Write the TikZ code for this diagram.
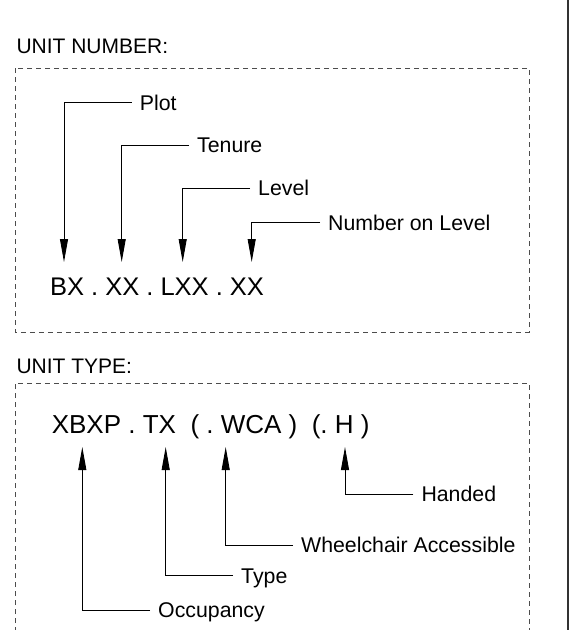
\documentclass[tikz,border=0pt]{standalone}
\usepackage{fontspec}
\setmainfont{Liberation Sans}
\usetikzlibrary{arrows.meta}
\tikzset{
  heading/.style={anchor=base west, inner sep=0pt, font=\fontsize{21}{25}\selectfont},
  code/.style={anchor=base west, inner sep=0pt},
  lbl/.style={anchor=west, inner xsep=8pt, inner ysep=0pt, text height=15pt, text depth=0pt, font=\fontsize{21.3}{25}\selectfont},
  leader/.style={draw=black, line width=0.9pt, -{Triangle[length=23pt,width=8pt]}},
  dashbox/.style={draw=black!70, line width=0.8pt, dash pattern=on 5pt off 4pt},
}
\begin{document}
\frenchspacing
\begin{tikzpicture}[x=1pt,y=-1pt]
\useasboundingbox (0,0) rectangle (575,630);
% right border line
\draw[black!80, line width=1.5pt] (568,0) -- (568,630);

% ---------- UNIT NUMBER ----------
\node[heading] (h1) at (16.3,53) {UNIT NUMBER:};
\draw[dashbox] (15,68) rectangle (529,332);
\node[code, font=\fontsize{25.5}{30}\selectfont] (num) at (49.8,295) {BX . XX . LXX . XX};

\coordinate (t1) at (64,262);
\coordinate (t2) at (121.7,262);
\coordinate (t3) at (182.7,262);
\coordinate (t4) at (251.7,262);

\node[lbl] (plot)   at (131.7,102.7) {Plot};
\node[lbl] (tenure) at (189,145)     {Tenure};
\node[lbl] (level)  at (250,188.3)   {Level};
\node[lbl] (nol)    at (320,222.7)   {Number on Level};

\draw[leader] (plot.west)   -| (t1);
\draw[leader] (tenure.west) -| (t2);
\draw[leader] (level.west)  -| (t3);
\draw[leader] (nol.west)    -| (t4);

% ---------- UNIT TYPE ----------
\node[heading] (h2) at (16.3,373) {UNIT TYPE:};
\draw[dashbox] (15,632) -- (15,383) -- (529,383) -- (529,632);
\node[code, font=\fontsize{26}{31}\selectfont] (typ) at (51.6,433) {XBXP . TX\ \ ( . WCA )\ \ (. H )};

\coordinate (u1) at (82.3,447);
\coordinate (u2) at (165.7,447);
\coordinate (u3) at (225.7,447);
\coordinate (u4) at (345,447);

\node[lbl] (hand) at (413.3,494)   {Handed};
\node[lbl] (wca)  at (293,545)     {Wheelchair Accessible};
\node[lbl] (type) at (233,575.7)   {Type};
\node[lbl] (occ)  at (150,610)     {Occupancy};

\draw[leader] (hand.west) -| (u4);
\draw[leader] (wca.west)  -| (u3);
\draw[leader] (type.west) -| (u2);
\draw[leader] (occ.west)  -| (u1);
\end{tikzpicture}
\end{document}
